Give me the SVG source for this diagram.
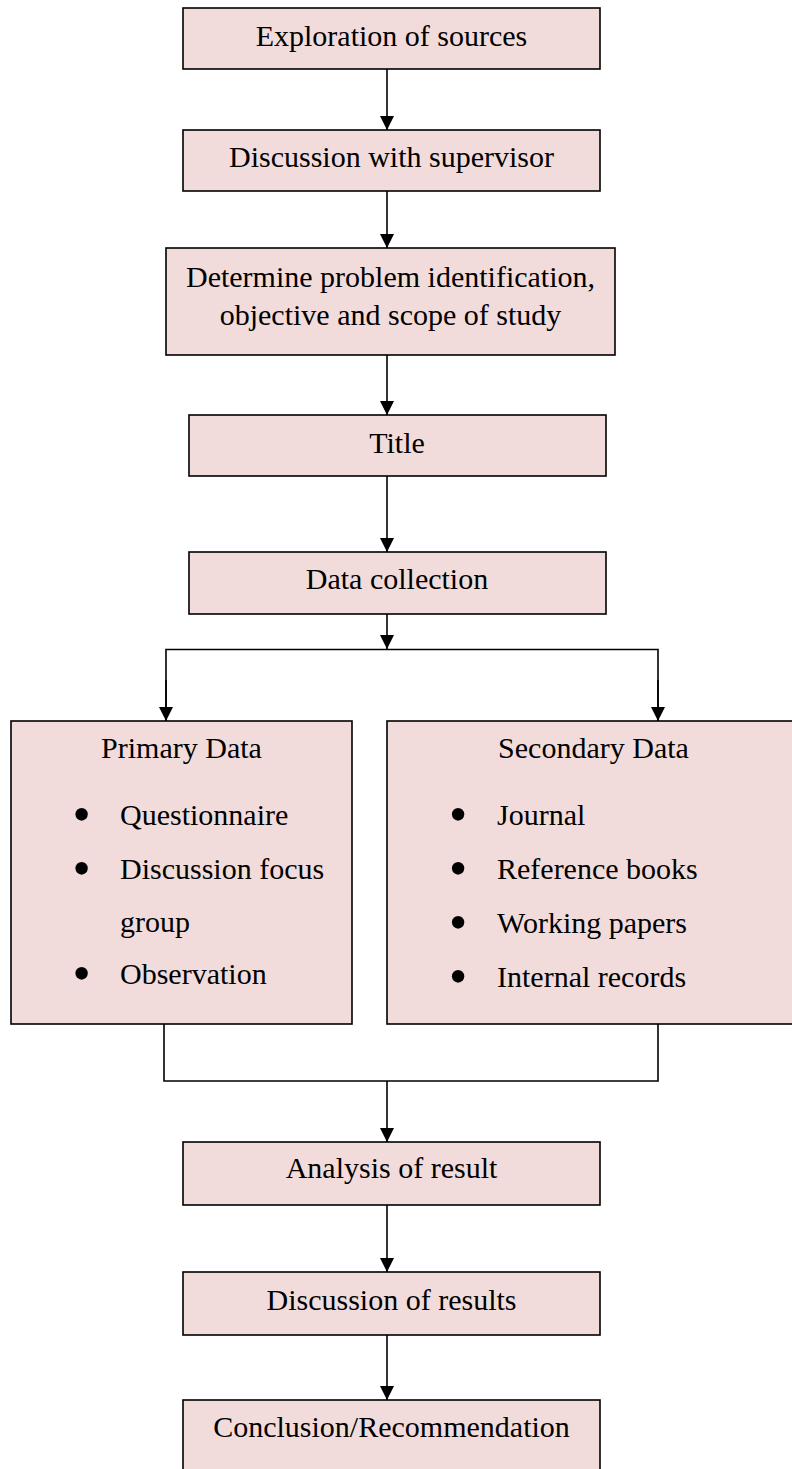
<svg xmlns="http://www.w3.org/2000/svg" width="792" height="1469" viewBox="0 0 792 1469">
<style>
.box{fill:#F2DCDB;stroke:#000;stroke-width:1.6}
.t{font-family:"Liberation Serif","Times New Roman",serif;font-size:30px;fill:#000}
.c{text-anchor:middle}
.b{font-family:"Liberation Serif","Times New Roman",serif;font-size:52px;fill:#000;text-anchor:middle}
.ln{fill:none;stroke:#000;stroke-width:1.6}
</style>
<defs>
<marker id="ah" markerWidth="14" markerHeight="14" viewBox="0 0 14 14" refX="14" refY="7" orient="auto" markerUnits="userSpaceOnUse">
<path d="M0,0 L14,7 L0,14 Z" fill="#000"/>
</marker>
</defs>
<rect width="792" height="1469" fill="#fff"/>
<g id="connectors">
<line class="ln" x1="387" y1="69" x2="387" y2="130" marker-end="url(#ah)"/>
<line class="ln" x1="387" y1="191" x2="387" y2="248" marker-end="url(#ah)"/>
<line class="ln" x1="387" y1="355" x2="387" y2="415" marker-end="url(#ah)"/>
<line class="ln" x1="387" y1="476" x2="387" y2="552" marker-end="url(#ah)"/>
<line class="ln" x1="387" y1="614" x2="387" y2="649" marker-end="url(#ah)"/>
<polyline class="ln" points="166,721 166,649.5 658,649.5 658,721"/>
<line class="ln" x1="166" y1="680" x2="166" y2="721" marker-end="url(#ah)"/>
<line class="ln" x1="658" y1="680" x2="658" y2="721" marker-end="url(#ah)"/>
<polyline class="ln" points="164,1024 164,1081 658,1081 658,1024"/>
<line class="ln" x1="387" y1="1081" x2="387" y2="1142" marker-end="url(#ah)"/>
<line class="ln" x1="387" y1="1205" x2="387" y2="1272" marker-end="url(#ah)"/>
<line class="ln" x1="387" y1="1335" x2="387" y2="1400" marker-end="url(#ah)"/>
</g>
<g id="n1"><rect class="box" x="183" y="8" width="417" height="61"/><text class="t c" x="391.5" y="46">Exploration of sources</text></g>
<g id="n2"><rect class="box" x="183" y="130" width="417" height="61"/><text class="t c" x="391.5" y="167">Discussion with supervisor</text></g>
<g id="n3"><rect class="box" x="166" y="248" width="449" height="107"/><text class="t c" x="390.5" y="287">Determine problem identification,</text><text class="t c" x="390.5" y="325">objective and scope of study</text></g>
<g id="n4"><rect class="box" x="189" y="415" width="417" height="61"/><text class="t c" x="397" y="453">Title</text></g>
<g id="n5"><rect class="box" x="189" y="552" width="417" height="62"/><text class="t c" x="397" y="589">Data collection</text></g>
<g id="n6"><rect class="box" x="11" y="721" width="341" height="303"/>
<text class="t c" x="181.5" y="758">Primary Data</text>
<text class="b" x="81.5" y="832">•</text><text class="t" x="120" y="825">Questionnaire</text>
<text class="b" x="81.5" y="886">•</text><text class="t" x="120" y="879">Discussion focus</text>
<text class="t" x="120" y="932">group</text>
<text class="b" x="81.5" y="991">•</text><text class="t" x="120" y="984">Observation</text>
</g>
<g id="n7"><rect class="box" x="387" y="721" width="410" height="303"/>
<text class="t c" x="593.5" y="758">Secondary Data</text>
<text class="b" x="458" y="832">•</text><text class="t" x="497" y="825">Journal</text>
<text class="b" x="458" y="886">•</text><text class="t" x="497" y="879">Reference books</text>
<text class="b" x="458" y="940">•</text><text class="t" x="497" y="933">Working papers</text>
<text class="b" x="458" y="994">•</text><text class="t" x="497" y="987">Internal records</text>
</g>
<g id="n8"><rect class="box" x="183" y="1142" width="417" height="63"/><text class="t c" x="391.5" y="1178">Analysis of result</text></g>
<g id="n9"><rect class="box" x="183" y="1272" width="417" height="63"/><text class="t c" x="391.5" y="1310">Discussion of results</text></g>
<g id="n10"><rect class="box" x="183" y="1400" width="417" height="80"/><text class="t c" x="391.5" y="1437">Conclusion/Recommendation</text></g>
</svg>
